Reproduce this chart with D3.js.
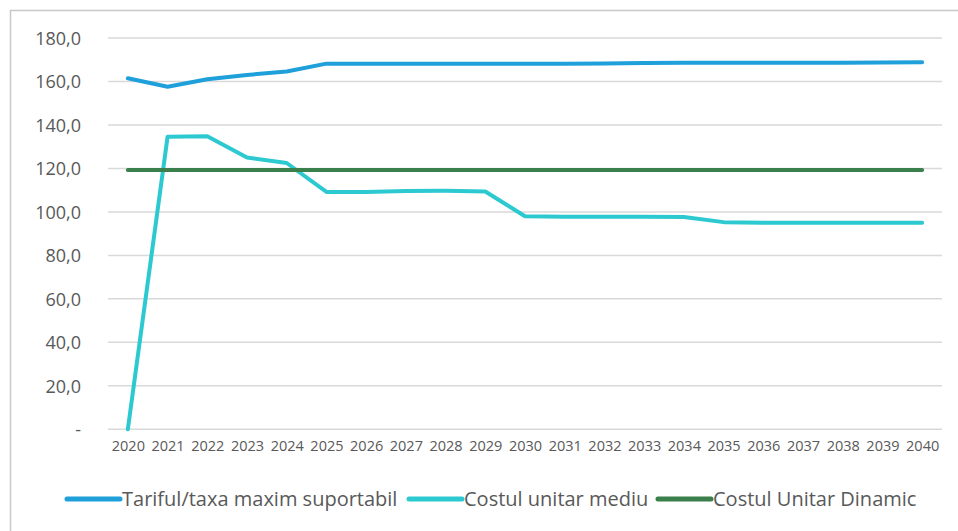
<!DOCTYPE html>
<html>
<head>
<meta charset="utf-8">
<script src="https://cdn.jsdelivr.net/npm/d3@7"></script>
<style>
  body { margin: 0; background: #fff; }
  text { font-family: "Open Sans", sans-serif; fill: #595959; }
</style>
</head>
<body>
<div id="chart"></div>
<script>
// years on the x axis
var years = ["2020","2021","2022","2023","2024","2025","2026","2027","2028","2029","2030",
             "2031","2032","2033","2034","2035","2036","2037","2038","2039","2040"];

// Tariful/taxa maxim suportabil
var tarifMaxim = [161.5, 157.6, 161.0, 163.0, 164.6, 168.2, 168.2, 168.2, 168.2, 168.2, 168.2,
                  168.2, 168.3, 168.5, 168.6, 168.6, 168.6, 168.6, 168.6, 168.7, 168.8];
// Costul unitar mediu
var costMediu = [0, 134.6, 134.8, 125.0, 122.5, 109.2, 109.2, 109.6, 109.7, 109.4, 98.0,
                 97.8, 97.8, 97.8, 97.7, 95.3, 95.0, 95.0, 95.0, 95.0, 95.0];
// Costul Unitar Dinamic
var costDinamic = [119.3, 119.3, 119.3, 119.3, 119.3, 119.3, 119.3, 119.3, 119.3, 119.3, 119.3,
                   119.3, 119.3, 119.3, 119.3, 119.3, 119.3, 119.3, 119.3, 119.3, 119.3];

var yTicks = [0, 20, 40, 60, 80, 100, 120, 140, 160, 180];

var series = [
  {name: "Tariful/taxa maxim suportabil", values: tarifMaxim, color: "#1fa0da"},
  {name: "Costul unitar mediu", values: costMediu, color: "#2cc9d1"},
  {name: "Costul Unitar Dinamic", values: costDinamic, color: "#3a7f4c"}
];

var width = 958, height = 531;

var svg = d3.select("#chart").append("svg")
    .attr("width", width)
    .attr("height", height);

// outer frame
svg.append("rect")
    .attr("x", 10.5).attr("y", 10.5)
    .attr("width", width).attr("height", height)
    .attr("fill", "none")
    .attr("stroke", "#c8c8c8")
    .attr("stroke-width", 1.5);

var x = d3.scalePoint().domain(years).range([108, 942]).padding(0.5);
var y = d3.scaleLinear().domain([0, 180]).range([429.3, 38]);

// gridlines
svg.append("g")
    .selectAll("line")
    .data(yTicks)
    .enter().append("line")
    .attr("x1", 108).attr("x2", 942)
    .attr("y1", function (d) { return y(d); })
    .attr("y2", function (d) { return y(d); })
    .attr("stroke", "#d9d9d9")
    .attr("stroke-width", 1.5);

// y axis labels
var yAxis = d3.axisLeft(y)
    .tickValues(yTicks)
    .tickSize(0)
    .tickPadding(0)
    .tickFormat(function (d) { return d === 0 ? "-" : d3.format(".1f")(d).replace(".", ","); });

var gy = svg.append("g")
    .attr("transform", "translate(81,0)")
    .call(yAxis);
gy.select(".domain").remove();
gy.selectAll("text")
    .style("font-size", "18px")
    .attr("dy", "0.35em");

// x axis labels
var xAxis = d3.axisBottom(x).tickSize(0).tickPadding(0);
var gx = svg.append("g")
    .attr("transform", "translate(0,441)")
    .call(xAxis);
gx.select(".domain").remove();
gx.selectAll("text")
    .style("font-size", "14.5px")
    .attr("dy", "0.71em");

// lines
var line = d3.line()
    .x(function (d, i) { return x(years[i]); })
    .y(function (d) { return y(d); });

svg.append("g")
    .selectAll("path")
    .data(series)
    .enter().append("path")
    .attr("d", function (d) { return line(d.values); })
    .attr("fill", "none")
    .attr("stroke", function (d) { return d.color; })
    .attr("stroke-width", 4)
    .attr("stroke-linecap", "round")
    .attr("stroke-linejoin", "round");

// legend
var legendX = [67, 409, 658];
var legend = svg.append("g")
    .selectAll("g")
    .data(series)
    .enter().append("g")
    .attr("transform", function (d, i) { return "translate(" + legendX[i] + ",499)"; });

legend.append("line")
    .attr("x1", 0).attr("x2", 53)
    .attr("y1", 0).attr("y2", 0)
    .attr("stroke", function (d) { return d.color; })
    .attr("stroke-width", 5)
    .attr("stroke-linecap", "round");

legend.append("text")
    .attr("x", 55)
    .attr("y", 0)
    .attr("dy", "0.35em")
    .style("font-size", "20px")
    .text(function (d) { return d.name; });
</script>
</body>
</html>
